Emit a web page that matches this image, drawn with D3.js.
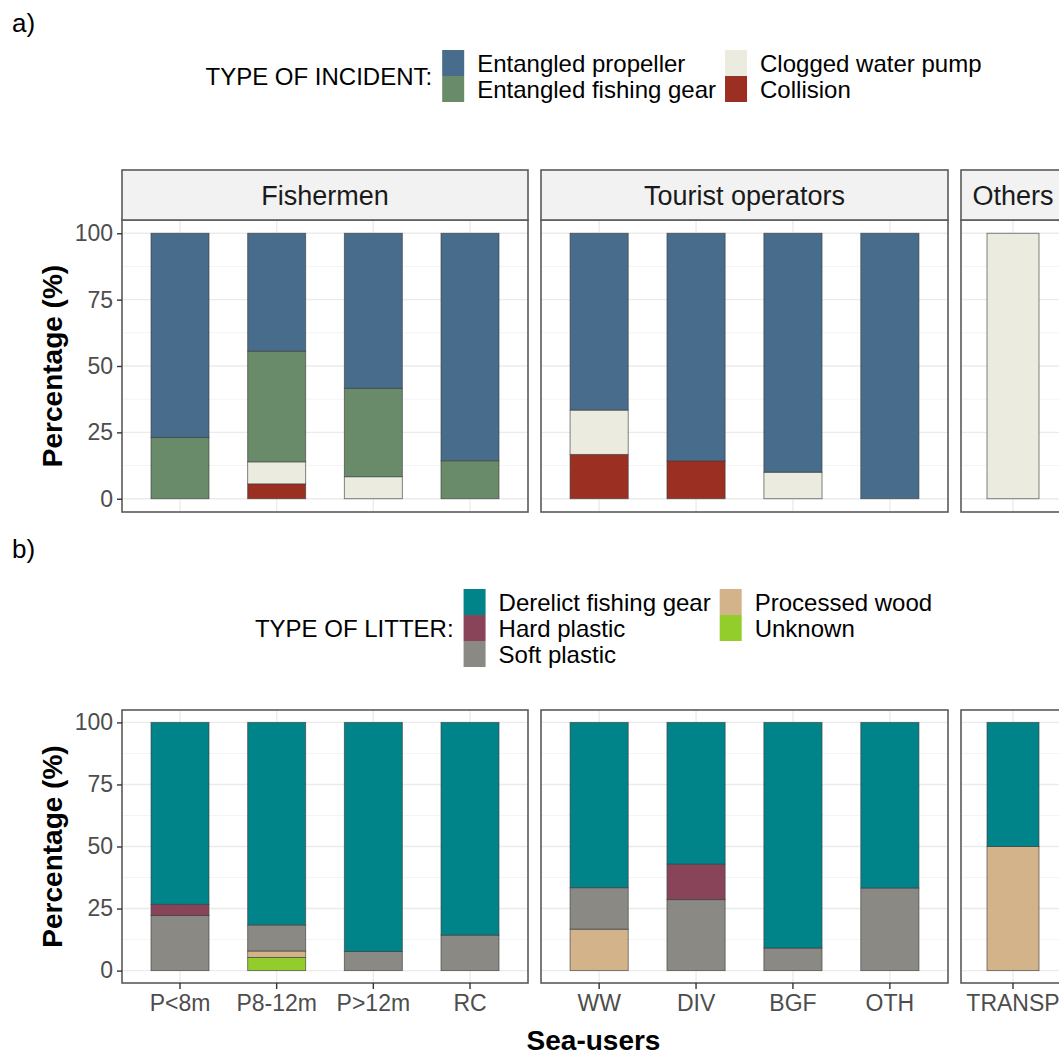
<!DOCTYPE html>
<html>
<head>
<meta charset="utf-8">
<script src="https://cdn.jsdelivr.net/npm/d3@7"></script>
<style>
  body { margin: 0; background: #fff; }
  svg { display: block; font-family: "Liberation Sans", Arial, sans-serif; }
</style>
</head>
<body>
<svg id="chart" width="1059" height="1063"></svg>
<script>
// ---- data (percentages per sea-user) ----
const users = ["P<8m", "P8-12m", "P>12m", "RC", "WW", "DIV", "BGF", "OTH", "TRANSP"];
const facetNames = ["Fishermen", "Tourist operators", "Others"];
const facetUsers = [["P<8m", "P8-12m", "P>12m", "RC"], ["WW", "DIV", "BGF", "OTH"], ["TRANSP"]];

// a) type of incident
const incidentTypes = ["Entangled propeller", "Entangled fishing gear", "Clogged water pump", "Collision"];
const entangledPropeller = [76.9, 44.4, 58.4, 85.7, 66.6, 85.7, 90.0, 100, 0];
const entangledFishingGear = [23.1, 41.7, 33.3, 14.3, 0, 0, 0, 0, 0];
const cloggedWaterPump = [0, 8.3, 8.3, 0, 16.7, 0, 10.0, 0, 100];
const collision = [0, 5.6, 0, 0, 16.7, 14.3, 0, 0, 0];

// b) type of litter
const litterTypes = ["Derelict fishing gear", "Hard plastic", "Soft plastic", "Processed wood", "Unknown"];
const derelictFishingGear = [73.3, 81.6, 92.3, 85.7, 66.6, 57.1, 90.9, 66.7, 50];
const hardPlastic = [4.5, 0, 0, 0, 0, 14.3, 0, 0, 0];
const softPlastic = [22.2, 10.5, 7.7, 14.3, 16.7, 28.6, 9.1, 33.3, 0];
const processedWood = [0, 2.6, 0, 0, 16.7, 0, 0, 0, 50];
const unknownLitter = [0, 5.3, 0, 0, 0, 0, 0, 0, 0];

const yTicks = [0, 25, 50, 75, 100];

const incidentColors = ["#486c8b", "#6a8b69", "#ebebdf", "#9b2f21"];
const litterColors = ["#00848a", "#8a4459", "#8b8984", "#d3b48a", "#92cd2c"];

// ---- layout ----
const svg = d3.select('#chart');
const panelX = [[122, 528], [541, 948], [961, 1065]];
const plotCenter = (panelX[0][0] + panelX[2][1]) / 2;

function buildRows(seriesList) {
    return users.map((u, i) => {
        const row = { user: u };
        seriesList.forEach((s, k) => row["k" + k] = s[i]);
        return row;
    });
}

function drawRow(opts) {
    const { top, bottom, stripH, keys, colors, series, showX } = opts;
    const rows = buildRows(series);
    // ggplot stacks the first level on top -> stack bottom-up in reverse
    const keyIds = keys.map((d, k) => "k" + k).reverse();
    const stacked = d3.stack().keys(keyIds)(rows);

    const panelTop = top + stripH;
    const y = d3.scaleLinear().domain([-5, 105]).range([bottom, panelTop]);

    facetNames.forEach((fname, f) => {
        const x = d3.scaleBand()
            .domain(facetUsers[f])
            .range(panelX[f])
            .paddingInner(0.4)
            .paddingOuter(0.3);
        const g = svg.append('g');
        const w = panelX[f][1] - panelX[f][0];

        // grid
        g.selectAll('line.minor')
            .data([12.5, 37.5, 62.5, 87.5])
            .enter().append('line')
            .attr('x1', panelX[f][0]).attr('x2', panelX[f][1])
            .attr('y1', d => y(d)).attr('y2', d => y(d))
            .attr('stroke', '#f4f4f4').attr('stroke-width', 1);
        g.selectAll('line.major')
            .data(yTicks)
            .enter().append('line')
            .attr('x1', panelX[f][0]).attr('x2', panelX[f][1])
            .attr('y1', d => y(d)).attr('y2', d => y(d))
            .attr('stroke', '#ebebeb').attr('stroke-width', 1.4);
        g.selectAll('line.vmajor')
            .data(facetUsers[f])
            .enter().append('line')
            .attr('x1', d => x(d) + x.bandwidth() / 2).attr('x2', d => x(d) + x.bandwidth() / 2)
            .attr('y1', panelTop).attr('y2', bottom)
            .attr('stroke', '#ebebeb').attr('stroke-width', 1.4);

        // bars
        stacked.forEach(layer => {
            const k = +layer.key.slice(1);
            g.selectAll(null)
                .data(layer.filter(d => facetUsers[f].includes(d.data.user) && d[1] - d[0] > 0))
                .enter().append('rect')
                .attr('x', d => x(d.data.user))
                .attr('width', x.bandwidth())
                .attr('y', d => y(d[1]))
                .attr('height', d => y(d[0]) - y(d[1]))
                .attr('fill', colors[k])
                .attr('stroke', '#3c3c3c')
                .attr('stroke-opacity', 0.7)
                .attr('stroke-width', 0.9);
        });

        // panel border
        g.append('rect')
            .attr('x', panelX[f][0]).attr('y', panelTop)
            .attr('width', w).attr('height', bottom - panelTop)
            .attr('fill', 'none').attr('stroke', '#5a5a5a').attr('stroke-width', 1.6);

        // strip
        if (stripH > 0) {
            g.append('rect')
                .attr('x', panelX[f][0]).attr('y', top)
                .attr('width', w).attr('height', stripH)
                .attr('fill', '#f2f2f2').attr('stroke', '#5a5a5a').attr('stroke-width', 1.6);
            g.append('text')
                .attr('x', panelX[f][0] + w / 2).attr('y', top + stripH / 2)
                .attr('dy', '0.36em')
                .attr('text-anchor', 'middle')
                .attr('font-size', 27)
                .attr('fill', '#1a1a1a')
                .text(fname);
        }

        // x axis
        if (showX) {
            const ax = svg.append('g')
                .attr('transform', 'translate(0,' + bottom + ')')
                .call(d3.axisBottom(x).tickSize(6).tickPadding(6));
            ax.select('.domain').remove();
            ax.selectAll('line').attr('stroke', '#333').attr('stroke-width', 1.4);
            ax.selectAll('text').attr('font-size', 23).attr('fill', '#4d4d4d')
                .attr('font-family', '"Liberation Sans", Arial, sans-serif');
        }
    });

    // y axis
    const ay = svg.append('g')
        .attr('transform', 'translate(' + panelX[0][0] + ',0)')
        .call(d3.axisLeft(y).tickValues(yTicks).tickSize(5).tickPadding(4));
    ay.select('.domain').remove();
    ay.selectAll('line').attr('stroke', '#333').attr('stroke-width', 1.4);
    ay.selectAll('text').attr('font-size', 23).attr('fill', '#4d4d4d')
        .attr('font-family', '"Liberation Sans", Arial, sans-serif');

    // y title
    svg.append('text')
        .attr('transform', 'translate(62,' + ((panelTop + bottom) / 2) + ') rotate(-90)')
        .attr('text-anchor', 'middle')
        .attr('font-size', 28)
        .attr('font-weight', 'bold')
        .text('Percentage (%)');
}

function drawLegend(opts) {
    const { title, keys, colors, nrow, cy } = opts;
    const keyW = 22, keyH = 26, keyGap = 13, colGap = 9, titleGap = 10;
    const g = svg.append('g');
    const titleEl = g.append('text').attr('font-size', 24).text(title);
    const titleW = titleEl.node().getComputedTextLength();

    const ncol = Math.ceil(keys.length / nrow);
    const colWidths = [];
    const items = [];
    for (let c = 0; c < ncol; c++) {
        let maxW = 0;
        for (let r = 0; r < nrow; r++) {
            const i = c * nrow + r;
            if (i >= keys.length) break;
            const t = g.append('text').attr('font-size', 24).text(keys[i]);
            maxW = Math.max(maxW, t.node().getComputedTextLength());
            items.push({ i, c, r, t });
        }
        colWidths.push(maxW);
    }
    const total = titleW + titleGap + d3.sum(colWidths, w => keyW + keyGap + w) + colGap * (ncol - 1);
    const x0 = plotCenter - total / 2;
    const blockTop = cy - nrow * keyH / 2;
    titleEl.attr('x', x0).attr('y', cy).attr('dy', '0.36em');

    const colX = [];
    let cx = x0 + titleW + titleGap;
    colWidths.forEach(w => { colX.push(cx); cx += keyW + keyGap + w + colGap; });

    items.forEach(it => {
        g.append('rect')
            .attr('x', colX[it.c]).attr('y', blockTop + it.r * keyH)
            .attr('width', keyW).attr('height', keyH)
            .attr('fill', colors[it.i]);
        it.t.attr('x', colX[it.c] + keyW + keyGap)
            .attr('y', blockTop + it.r * keyH + keyH / 2)
            .attr('dy', '0.36em');
    });
}

// ---- panel a ----
svg.append('text').attr('x', 12).attr('y', 32).attr('font-size', 26).text('a)');
drawLegend({ title: 'TYPE OF INCIDENT:', keys: incidentTypes, colors: incidentColors, nrow: 2, cy: 76 });
drawRow({
    top: 170, bottom: 512, stripH: 50,
    keys: incidentTypes, colors: incidentColors,
    series: [entangledPropeller, entangledFishingGear, cloggedWaterPump, collision],
    showX: false
});

// ---- panel b ----
svg.append('text').attr('x', 12).attr('y', 558).attr('font-size', 26).text('b)');
drawLegend({ title: 'TYPE OF LITTER:', keys: litterTypes, colors: litterColors, nrow: 3, cy: 628 });
drawRow({
    top: 710, bottom: 983, stripH: 0,
    keys: litterTypes, colors: litterColors,
    series: [derelictFishingGear, hardPlastic, softPlastic, processedWood, unknownLitter],
    showX: true
});

// x title
svg.append('text')
    .attr('x', plotCenter).attr('y', 1050)
    .attr('text-anchor', 'middle')
    .attr('font-size', 28)
    .attr('font-weight', 'bold')
    .text('Sea-users');
</script>
</body>
</html>
